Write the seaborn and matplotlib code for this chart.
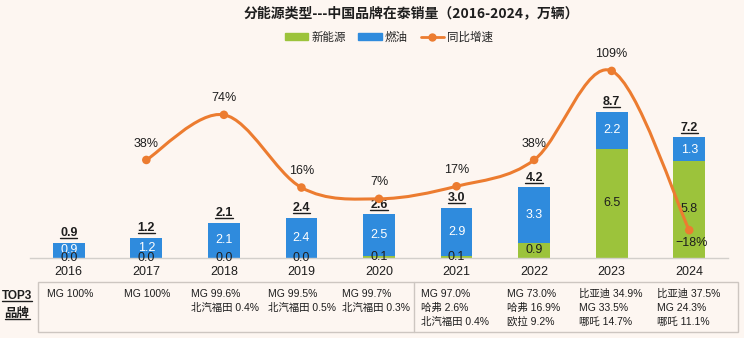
import numpy as np
import pandas as pd
import seaborn as sns
import matplotlib
matplotlib.use("Agg")
import matplotlib.pyplot as plt
from matplotlib.path import Path
from matplotlib.patches import PathPatch, Patch, Rectangle
from matplotlib.lines import Line2D

# ---------------- data ----------------
years = ["2016", "2017", "2018", "2019", "2020", "2021", "2022", "2023", "2024"]
nev = [0.0, 0.0, 0.0, 0.0, 0.1, 0.1, 0.9, 6.5, 5.8]
ice = [0.9, 1.2, 2.1, 2.4, 2.5, 2.9, 3.3, 2.2, 1.3]
total = [0.9, 1.2, 2.1, 2.4, 2.6, 3.0, 4.2, 8.7, 7.2]
growth_years = years[1:]
growth = [38, 74, 16, 7, 17, 38, 109, -18]
top3 = [
    ["MG 100%"],
    ["MG 100%"],
    ["MG 99.6%", "北汽福田 0.4%"],
    ["MG 99.5%", "北汽福田 0.5%"],
    ["MG 99.7%", "北汽福田 0.3%"],
    ["MG 97.0%", "哈弗 2.6%", "北汽福田 0.4%"],
    ["MG 73.0%", "哈弗 16.9%", "欧拉 9.2%"],
    ["比亚迪 34.9%", "MG 33.5%", "哪吒 14.7%"],
    ["比亚迪 37.5%", "MG 24.3%", "哪吒 11.1%"],
]
title = "分能源类型---中国品牌在泰销量（2016-2024，万辆）"
legend_labels = ["新能源", "燃油", "同比增速"]

# ---------------- style ----------------
BG = "#FDF6F1"
BLUE = "#2F8BDD"
GREEN = "#9CC33B"
ORANGE = "#EC7C30"
TXT = "#1E1E1E"
FS = 9

sns.set_theme(style="white")
plt.rcParams["font.family"] = ["Liberation Sans", "Noto Sans CJK SC", "DejaVu Sans"]
CJK = ["Noto Sans CJK SC", "DejaVu Sans"]
MIX = ["Liberation Sans", "Noto Sans CJK SC", "DejaVu Sans"]

W, H = 744, 338
fig = plt.figure(figsize=(W / 100, H / 100), dpi=100, facecolor=BG)


def fx(px):
    return px / W


def fy(py):
    return 1 - py / H


ax = fig.add_axes([fx(30), (H - 258) / H, 698 / W, 213 / H])
ax.set_facecolor("none")

df = pd.DataFrame({"year": years, "nev": nev, "ice": ice, "total": total})
sns.barplot(data=df, x="year", y="total", color=BLUE, width=0.41, saturation=1,
            ax=ax, linewidth=0)
sns.barplot(data=df, x="year", y="nev", color=GREEN, width=0.41, saturation=1,
            ax=ax, linewidth=0)
ax.set_xlim(-0.5, 8.5)
ax.set_ylim(0, 213 / 16.8)
ax.set_xlabel("")
ax.set_ylabel("")
ax.set_yticks([])
for s in ["top", "left", "right"]:
    ax.spines[s].set_visible(False)
ax.spines["bottom"].set_color("#D3CFCB")
ax.spines["bottom"].set_linewidth(1)
ax.tick_params(axis="x", length=0, pad=5.5, labelsize=FS, labelcolor=TXT)
ax.set_xticks(range(len(years)), years)
ax.set_xticks(np.arange(-0.5, 9, 1), minor=True)
ax.tick_params(axis="x", which="minor", length=3, direction="in", color="#D3CFCB")

# segment labels
for i in range(len(years)):
    ax.text(i, nev[i] + ice[i] / 2, f"{ice[i]:.1f}", ha="center", va="center",
            color="white", fontsize=FS)
    ax.text(i, nev[i] / 2, f"{nev[i]:.1f}", ha="center", va="center",
            color=TXT, fontsize=FS)

total_texts = []
for i in range(len(years)):
    t = ax.annotate(f"{total[i]:.1f}", (i, total[i]), xytext=(0, 2.5),
                    textcoords="offset points", ha="center", va="bottom",
                    fontsize=FS, fontweight="bold", color=TXT)
    total_texts.append(t)

# growth line on secondary axis
ax2 = ax.twinx()
ax2.set_ylim(-50.4 / 1.254, (213 - 50.4) / 1.254)
ax2.set_yticks([])
for s in ax2.spines.values():
    s.set_visible(False)
gx = np.array([years.index(y) for y in growth_years], dtype=float)
gy = np.array(growth, dtype=float)
P = np.column_stack([gx, gy])
verts = [tuple(P[0])]
codes = [Path.MOVETO]
n = len(P)
for i in range(n - 1):
    p0 = P[i - 1] if i > 0 else P[i]
    p1 = P[i]
    p2 = P[i + 1]
    p3 = P[i + 2] if i + 2 < n else P[i + 1]
    c1 = p1 + (p2 - p0) / 6
    c2 = p2 - (p3 - p1) / 6
    verts += [tuple(c1), tuple(c2), tuple(p2)]
    codes += [Path.CURVE4] * 3
ax2.add_patch(PathPatch(Path(verts, codes), fill=False, edgecolor=ORANGE, lw=2.2,
                        zorder=3))
sns.scatterplot(x=gx, y=gy, color=ORANGE, s=38, edgecolor="none", ax=ax2, zorder=4)
for x, v in zip(gx, gy):
    if v >= 0:
        ax2.annotate(f"{v:.0f}%", (x, v), xytext=(0, 7.5), textcoords="offset points",
                     ha="center", va="bottom", fontsize=FS, color=TXT)
    else:
        ax2.annotate(f"\u2212{abs(v):.0f}%", (x, v), xytext=(2, -5),
                     textcoords="offset points", ha="center", va="top",
                     fontsize=FS, color=TXT)

# title & legend
fig.text(fx(411), fy(13), title, ha="center", va="center", fontsize=10,
         fontweight="bold", family=CJK, color=TXT)
handles = [Patch(color=GREEN), Patch(color=BLUE),
           Line2D([], [], color=ORANGE, lw=2, marker="o", markersize=5)]
fig.legend(handles, legend_labels, loc="center", bbox_to_anchor=(fx(389), fy(37)),
           ncol=3, frameon=False, prop={"family": CJK, "size": 8.3},
           handlelength=2.0, handleheight=0.6, columnspacing=1.1, handletextpad=0.3)

# table
fig.add_artist(Rectangle((fx(38), fy(332)), 700 / W, 50 / H, transform=fig.transFigure,
                         facecolor="none", edgecolor="#CDC6C1", lw=1))
fig.add_artist(Line2D([fx(414), fx(414)], [fy(332), fy(282)], transform=fig.transFigure,
                      color="#CDC6C1", lw=1))
col_x = [47, 124, 191, 268, 342, 421, 507, 579, 657]
for cx, lines in zip(col_x, top3):
    for j, s in enumerate(lines):
        fig.text(fx(cx), fy(294 + 14 * j), s, ha="left", va="center", fontsize=7.5,
                 family=MIX, color=TXT)

head_texts = [
    fig.text(fx(17), fy(296), "TOP3", ha="center", va="center", fontsize=8.5,
             fontweight="bold", family=MIX, color=TXT),
    fig.text(fx(17), fy(313), "品牌", ha="center", va="center", fontsize=9,
             fontweight="bold", family=CJK, color=TXT),
]

# underlines
fig.canvas.draw()
r = fig.canvas.get_renderer()
inv = fig.transFigure.inverted()
for t in total_texts + head_texts:
    bb = t.get_window_extent(r)
    (x0, y0), (x1, _) = inv.transform([(bb.x0, bb.y0 + 1), (bb.x1, bb.y0 + 1)])
    fig.add_artist(Line2D([x0, x1], [y0, y0], transform=fig.transFigure, color=TXT,
                          lw=1))

fig.savefig("out.png", dpi=100, facecolor=BG)
